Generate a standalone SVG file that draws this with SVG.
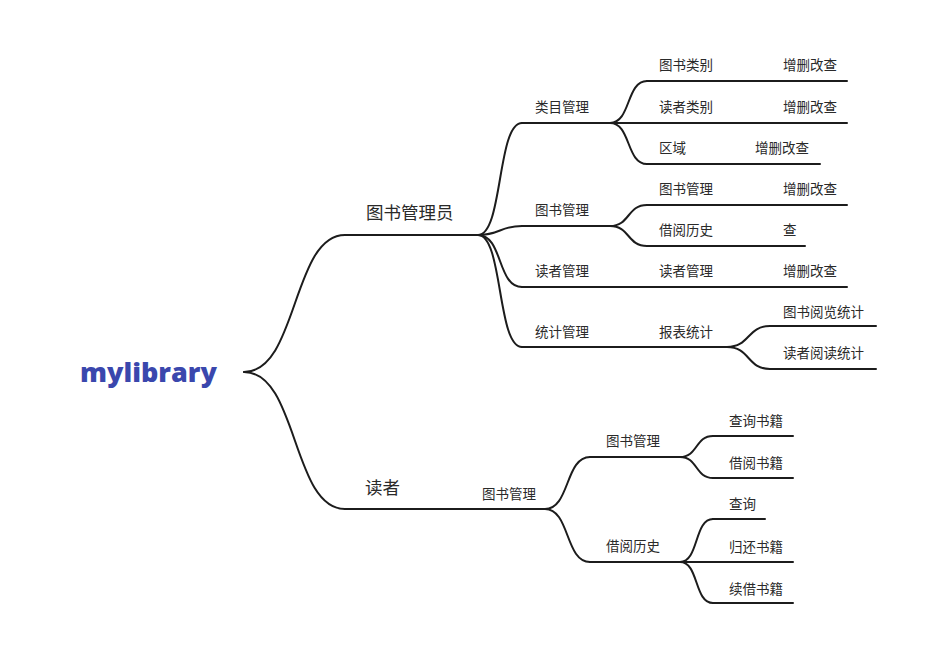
<svg xmlns="http://www.w3.org/2000/svg" width="925" height="655" viewBox="0 0 925 655">
<style>
  .ln{stroke:#1c1c1c;stroke-width:2;fill:none;stroke-linecap:round}
  .t{font-family:"Noto Sans CJK SC","Noto Sans",sans-serif;font-size:13.5px;fill:#2a2a2a}
  .t1{font-family:"Noto Sans CJK SC","Noto Sans",sans-serif;font-size:17.5px;fill:#2a2a2a}
  .root{font-family:"Open Sans","Liberation Sans",sans-serif;font-weight:800;font-size:27px;fill:#3a47ad}
</style>
<rect width="925" height="655" fill="#ffffff"/>
<g id="connectors" class="ln">
  <path d="M244,372 C298,372 292,235 345,235"/>
  <path d="M244,372 C298,372 292,509 345,509"/>
  <path d="M478,235 C503,235 497,123 522,123"/>
  <path d="M478,235 C500,235 500,226 522,226"/>
  <path d="M478,235 C503,235 497,287 522,287"/>
  <path d="M478,235 C503,235 497,347 522,347"/>
  <path d="M610,123 C631,123 626,81 647,81"/>
  <path d="M610,123 L647,123"/>
  <path d="M610,123 C631,123 626,164 647,164"/>
  <path d="M610,226 C630,226 627,205 647,205"/>
  <path d="M610,226 C630,226 627,246 647,246"/>
  <path d="M727,347 C750,347 747,326 770,326"/>
  <path d="M727,347 C750,347 747,369 770,369"/>
  <path d="M545,509 C570,509 565,457 590,457"/>
  <path d="M545,509 C570,509 565,562 590,562"/>
  <path d="M680,457 C698,457 695,436 713,436"/>
  <path d="M680,457 C698,457 695,478 713,478"/>
  <path d="M680,562 C699,562 694,519 713,519"/>
  <path d="M680,562 L713,562"/>
  <path d="M680,562 C699,562 694,603 713,603"/>
</g>
<g id="root"><text class="root" x="80" y="382">mylibrary</text></g>
<g id="n1"><line class="ln" x1="345" y1="235" x2="478" y2="235"/><text class="t1" x="366" y="219">图书管理员</text></g>
<g id="n2"><line class="ln" x1="345" y1="509" x2="473" y2="509"/><text class="t1" x="365" y="494">读者</text></g>
<g id="n1a"><line class="ln" x1="522" y1="123" x2="610" y2="123"/><text class="t" x="535" y="112">类目管理</text></g>
<g id="n1b"><line class="ln" x1="522" y1="226" x2="610" y2="226"/><text class="t" x="535" y="215">图书管理</text></g>
<g id="n1c"><line class="ln" x1="522" y1="287" x2="647" y2="287"/><text class="t" x="535" y="276">读者管理</text></g>
<g id="n1d"><line class="ln" x1="522" y1="347" x2="647" y2="347"/><text class="t" x="535" y="337">统计管理</text></g>
<g id="n1a1"><line class="ln" x1="647" y1="81" x2="767" y2="81"/><text class="t" x="659" y="70">图书类别</text></g>
<g id="n1a1a"><line class="ln" x1="767" y1="81" x2="847" y2="81"/><text class="t" x="783" y="70">增删改查</text></g>
<g id="n1a2"><line class="ln" x1="647" y1="123" x2="767" y2="123"/><text class="t" x="659" y="112">读者类别</text></g>
<g id="n1a2a"><line class="ln" x1="767" y1="123" x2="847" y2="123"/><text class="t" x="783" y="112">增删改查</text></g>
<g id="n1a3"><line class="ln" x1="647" y1="164" x2="740" y2="164"/><text class="t" x="659" y="153">区域</text></g>
<g id="n1a3a"><line class="ln" x1="740" y1="164" x2="820" y2="164"/><text class="t" x="755" y="153">增删改查</text></g>
<g id="n1b1"><line class="ln" x1="647" y1="205" x2="767" y2="205"/><text class="t" x="659" y="194">图书管理</text></g>
<g id="n1b1a"><line class="ln" x1="767" y1="205" x2="847" y2="205"/><text class="t" x="783" y="194">增删改查</text></g>
<g id="n1b2"><line class="ln" x1="647" y1="246" x2="767" y2="246"/><text class="t" x="659" y="235">借阅历史</text></g>
<g id="n1b2a"><line class="ln" x1="767" y1="246" x2="805" y2="246"/><text class="t" x="783" y="235">查</text></g>
<g id="n1c1"><line class="ln" x1="647" y1="287" x2="767" y2="287"/><text class="t" x="659" y="276">读者管理</text></g>
<g id="n1c1a"><line class="ln" x1="767" y1="287" x2="847" y2="287"/><text class="t" x="783" y="276">增删改查</text></g>
<g id="n1d1"><line class="ln" x1="647" y1="347" x2="727" y2="347"/><text class="t" x="659" y="337">报表统计</text></g>
<g id="n1d1a"><line class="ln" x1="770" y1="326" x2="876" y2="326"/><text class="t" x="783" y="317">图书阅览统计</text></g>
<g id="n1d1b"><line class="ln" x1="770" y1="369" x2="876" y2="369"/><text class="t" x="783" y="358">读者阅读统计</text></g>
<g id="n2a"><line class="ln" x1="473" y1="509" x2="545" y2="509"/><text class="t" x="482" y="499">图书管理</text></g>
<g id="n2a1"><line class="ln" x1="590" y1="457" x2="680" y2="457"/><text class="t" x="606" y="446">图书管理</text></g>
<g id="n2a2"><line class="ln" x1="590" y1="562" x2="680" y2="562"/><text class="t" x="606" y="551">借阅历史</text></g>
<g id="n2a1a"><line class="ln" x1="713" y1="436" x2="793" y2="436"/><text class="t" x="729" y="426">查询书籍</text></g>
<g id="n2a1b"><line class="ln" x1="713" y1="478" x2="793" y2="478"/><text class="t" x="729" y="468">借阅书籍</text></g>
<g id="n2a2a"><line class="ln" x1="713" y1="519" x2="765" y2="519"/><text class="t" x="729" y="509">查询</text></g>
<g id="n2a2b"><line class="ln" x1="713" y1="562" x2="793" y2="562"/><text class="t" x="729" y="552">归还书籍</text></g>
<g id="n2a2c"><line class="ln" x1="713" y1="603" x2="793" y2="603"/><text class="t" x="729" y="594">续借书籍</text></g>
</svg>
